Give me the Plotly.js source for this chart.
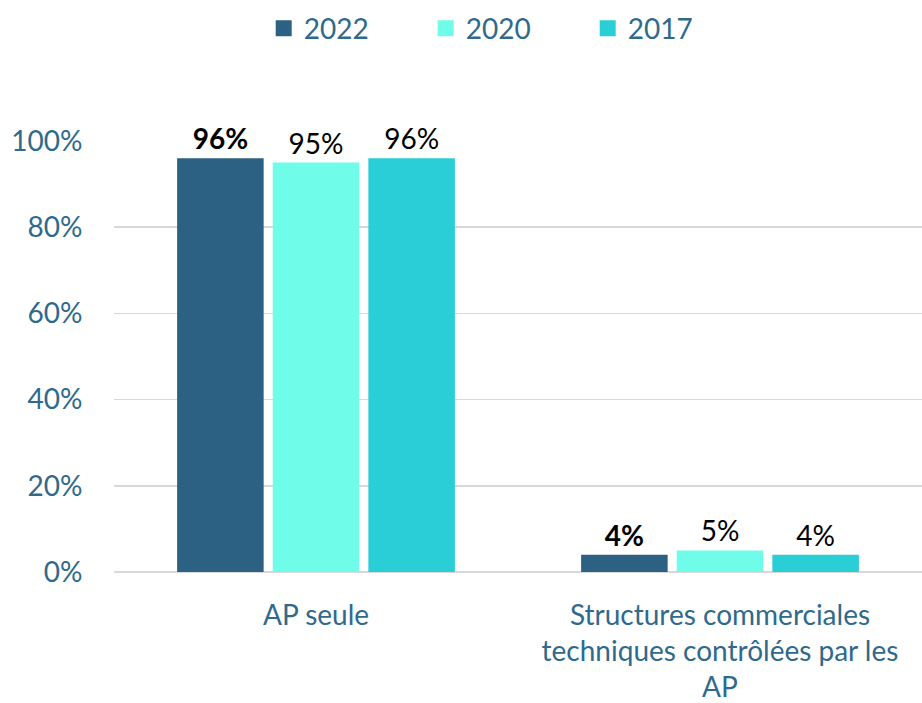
<!DOCTYPE html>
<html>
<head>
<meta charset="utf-8">
<script src="https://cdn.plot.ly/plotly-3.0.1.min.js"></script>
<style>html,body{margin:0;padding:0;background:#fff;}</style>
</head>
<body>
<div id="chart" style="width:922px;height:703px;"></div>
<script>
const categories = ["AP seule", "Structures commerciales<br>techniques contrôlées par les<br>AP"];
const seriesNames = ["2022", "2020", "2017"];
const values2022 = [0.96, 0.04];
const values2020 = [0.95, 0.05];
const values2017 = [0.96, 0.04];
const tickVals = [0, 0.2, 0.4, 0.6, 0.8, 1.0];
const tickText = ["0%", "20%", "40%", "60%", "80%", "100%"];

const colors = ["#2C6183", "#6FFCE9", "#29CED7"];
const axisColor = "#2F6A8C";
const font = "Lato, 'Open Sans', sans-serif";

function mk(name, vals, color, bold) {
  return {
    type: "bar", name: name, x: categories, y: vals,
    marker: {color: color},
    text: vals.map(v => (bold ? "<b>" : "") + Math.round(v * 100) + "%" + (bold ? "</b>" : "")),
    textposition: "outside",
    textfont: {family: font, size: 28, color: "#000"},
    cliponaxis: false,
    constraintext: "none",
    showlegend: false,
    hoverinfo: "skip"
  };
}
function leg(name, color) {
  return {
    type: "scatter", mode: "markers", name: name, x: [null], y: [null],
    marker: {symbol: "square", size: 18, color: color},
    showlegend: true, hoverinfo: "skip"
  };
}

const data = [
  mk(seriesNames[0], values2022, colors[0], true),
  mk(seriesNames[1], values2020, colors[1], false),
  mk(seriesNames[2], values2017, colors[2], false),
  leg(seriesNames[0], colors[0]),
  leg(seriesNames[1], colors[1]),
  leg(seriesNames[2], colors[2])
];

const layout = {
  width: 922, height: 703,
  margin: {l: 114, r: 0, t: 141, b: 131},
  paper_bgcolor: "#fff", plot_bgcolor: "#fff",
  font: {family: font, size: 28, color: axisColor},
  barmode: "group",
  bargap: 0.29,
  bargroupgap: 0.095,
  showlegend: true,
  legend: {
    orientation: "h", x: 0.286, xanchor: "left", y: 0.995, yanchor: "top",
    yref: "container", xref: "container",
    font: {family: font, size: 28, color: axisColor},
    itemwidth: 30, traceorder: "normal",
    entrywidth: 117
  },
  xaxis: {
    range: [-0.5, 1.5],
    showgrid: false, zeroline: false, showline: false,
    ticks: "outside", ticklen: 18, tickcolor: "rgba(0,0,0,0)",
    tickfont: {family: font, size: 28, color: axisColor},
    fixedrange: true
  },
  yaxis: {
    range: [0, 1.0],
    tickvals: tickVals, ticktext: tickText,
    showgrid: true, gridcolor: "#D9D9D9", gridwidth: 1.5,
    zeroline: true, zerolinecolor: "#D9D9D9", zerolinewidth: 1.5,
    showline: false,
    ticks: "outside", ticklen: 25, tickcolor: "rgba(0,0,0,0)",
    tickfont: {family: font, size: 28, color: axisColor},
    fixedrange: true
  }
};

Plotly.newPlot("chart", data, layout, {displayModeBar: false, staticPlot: true});
</script>
</body>
</html>
